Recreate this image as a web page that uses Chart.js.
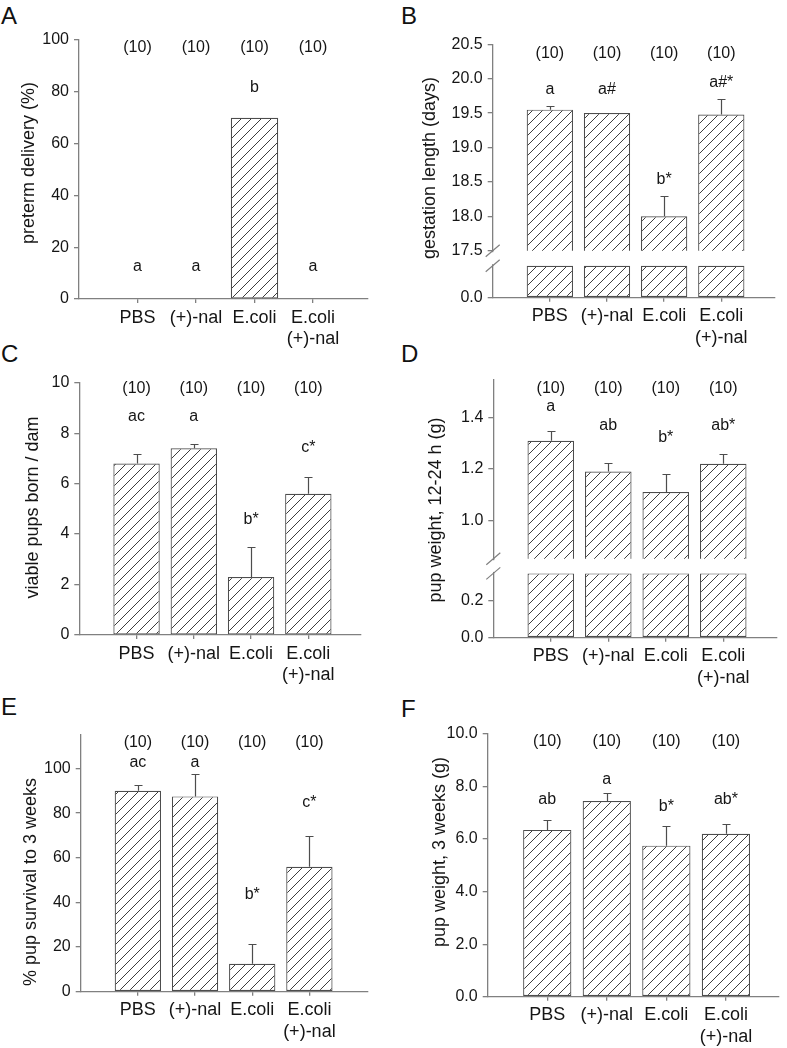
<!DOCTYPE html>
<html><head><meta charset="utf-8">
<script src="https://cdn.jsdelivr.net/npm/chart.js@4.4.1/dist/chart.umd.min.js"></script>
<style>
html,body{margin:0;padding:0;background:#fff}
body{width:787px;height:1048px;position:relative;overflow:hidden;font-family:"Liberation Sans",Arial,sans-serif}
canvas{position:absolute}
.lbl{position:absolute;font-size:24px;line-height:24px;color:#111}
</style></head><body>
<div class="lbl" style="left:1px;top:4px">A</div>
<div class="lbl" style="left:401px;top:4px">B</div>
<div class="lbl" style="left:1px;top:342px">C</div>
<div class="lbl" style="left:401px;top:342px">D</div>
<div class="lbl" style="left:1px;top:695px">E</div>
<div class="lbl" style="left:401px;top:697px">F</div>
<canvas id="cA"></canvas><canvas id="cB"></canvas>
<canvas id="cC"></canvas><canvas id="cD"></canvas>
<canvas id="cE"></canvas><canvas id="cF"></canvas>
<script>
// ---------------- data ----------------
const groups = ['PBS', '(+)-nal', 'E.coli', 'E.coli\n(+)-nal'];
const nPerGroup = [10, 10, 10, 10];

const pretermPct = [0, 0, 70, 0];
const pretermLetters = ['a', 'a', 'b', 'a'];
const pretermTicks = [0, 20, 40, 60, 80, 100];

const gestationDays = [19.55, 19.5, 18.0, 19.48];
const gestationErr = [0.05, 0, 0.3, 0.22];
const gestationLetters = ['a', 'a#', 'b*', 'a#*'];
const gestationTicks = [17.5, 18.0, 18.5, 19.0, 19.5, 20.0, 20.5];
const gestationLowTicks = [0];

const viablePups = [6.8, 7.4, 2.3, 5.6];
const viablePupsErr = [0.36, 0.17, 1.18, 0.67];
const viablePupsLetters = ['ac', 'a', 'b*', 'c*'];
const viablePupsTicks = [0, 2, 4, 6, 8, 10];

const pupWeight24h = [1.31, 1.19, 1.11, 1.22];
const pupWeight24hErr = [0.04, 0.035, 0.07, 0.04];
const pupWeight24hLetters = ['a', 'ab', 'b*', 'ab*'];
const pupWeight24hTicks = [1.0, 1.2, 1.4];
const pupWeight24hLowTicks = [0, 0.2];

const survival3wk = [90, 87.5, 12.5, 56];
const survival3wkErr = [2.8, 10, 9, 13.8];
const survival3wkLetters = ['ac', 'a', 'b*', 'c*'];
const survival3wkTicks = [0, 20, 40, 60, 80, 100];

const pupWeight3wk = [6.35, 7.45, 5.75, 6.2];
const pupWeight3wkErr = [0.37, 0.32, 0.75, 0.37];
const pupWeight3wkLetters = ['ab', 'a', 'b*', 'ab*'];
const pupWeight3wkTicks = [0, 2, 4, 6, 8, 10];

// ---------------- layout / style ----------------
const TXT = '#151515', AXIS = '#808080', EDGE = '#4d4d4d', HATCH = '#3c3c3c';
const FONT = '"Liberation Sans", Arial, sans-serif';
Chart.defaults.font.family = FONT;
Chart.defaults.color = TXT;

const panels = [
  {key:'A', box:[0,0,393,350], axisX:79, top:40, bottom:299, right:368, xMax:4.94,
   values:pretermPct, err:null, letters:pretermLetters,
   y:{min:0, max:100, ticks:pretermTicks, dec:0},
   nY:97, letterY:[12.4,12.4,81.5,12.4], title:'preterm delivery (%)', titleXY:[29,163]},
  {key:'B', box:[393,0,394,350], axisX:492.7, top:44.3, bottom:297.7, right:775, xMax:4.94,
   values:gestationDays, err:gestationErr, letters:gestationLetters,
   y:{min:17.5, max:20.5, ticks:gestationTicks, dec:1},
   low:{max:1, brk:0.68, ticks:gestationLowTicks, dec:1, split:250.7},
   nY:20.37, letterY:[19.84,19.84,18.54,19.94], title:'gestation length (days)', titleXY:[430,168]},
  {key:'C', box:[0,340,393,350], axisX:79.3, top:382.7, bottom:635, right:361, xMax:4.92,
   values:viablePups, err:viablePupsErr, letters:viablePupsLetters,
   y:{min:0, max:10, ticks:viablePupsTicks, dec:0},
   nY:9.78, letterY:[8.65,8.65,4.56,7.44], title:'viable pups born / dam', titleXY:[33,507.5]},
  {key:'D', box:[393,340,394,350], axisX:493.3, top:379.3, bottom:637.7, right:776.7, xMax:4.93,
   values:pupWeight24h, err:pupWeight24hErr, letters:pupWeight24hLetters,
   y:{min:0.85, max:1.55, ticks:pupWeight24hTicks, dec:1},
   low:{max:0.43, brk:0.35, ticks:pupWeight24hLowTicks, dec:1, split:558.7},
   nY:1.515, letterY:[1.443,1.371,1.322,1.371], title:'pup weight, 12-24 h (g)', titleXY:[436,510]},
  {key:'E', box:[0,680,393,368], axisX:80.7, top:735, bottom:991.7, right:367.7, xMax:5.02,
   values:survival3wk, err:survival3wkErr, letters:survival3wkLetters,
   y:{min:0, max:115, ticks:survival3wkTicks, dec:0},
   nY:111.5, letterY:[102.5,102.5,43.6,84.6], title:'% pup survival to 3 weeks', titleXY:[31,882]},
  {key:'F', box:[393,680,394,368], axisX:487.7, top:734, bottom:996.7, right:778.3, xMax:4.88,
   values:pupWeight3wk, err:pupWeight3wkErr, letters:pupWeight3wkLetters,
   y:{min:0, max:10, ticks:pupWeight3wkTicks, dec:1},
   nY:9.71, letterY:[7.49,8.28,7.23,7.51], title:'pup weight, 3 weeks (g)', titleXY:[440,852]}
];

function makeHatch(ctx){
  const s = 10, c = document.createElement('canvas');
  c.width = s; c.height = s;
  const g = c.getContext('2d');
  g.fillStyle = '#fff'; g.fillRect(0,0,s,s);
  g.strokeStyle = HATCH; g.lineWidth = 1;
  g.beginPath();
  g.moveTo(-1, s+1); g.lineTo(s+1, -1);
  g.moveTo(-1, 1); g.lineTo(1, -1);
  g.moveTo(s-1, s+1); g.lineTo(s+1, s-1);
  g.stroke();
  return ctx.createPattern(c, 'repeat');
}

const decor = {
  id: 'decor',
  afterDatasetsDraw(chart, args, o) {
    const ctx = chart.ctx, xs = chart.scales.x, ys = chart.scales[o.yId];
    ctx.save();
    // error bars
    ctx.strokeStyle = EDGE; ctx.lineWidth = 1.2;
    o.values.forEach((v, i) => {
      const e = o.err ? o.err[i] : 0;
      if (!e) return;
      const px = Math.round(xs.getPixelForValue(i + 1)) + 0.5;
      const y0 = ys.getPixelForValue(v), y1 = Math.round(ys.getPixelForValue(v + e)) + 0.5;
      ctx.beginPath();
      ctx.moveTo(px, y0); ctx.lineTo(px, y1);
      ctx.moveTo(px - 4, y1); ctx.lineTo(px + 4, y1);
      ctx.stroke();
    });
    // n and letters
    ctx.fillStyle = TXT; ctx.textAlign = 'center'; ctx.textBaseline = 'middle';
    ctx.font = '16px ' + FONT;
    o.n.forEach((n, i) => ctx.fillText('(' + n + ')', xs.getPixelForValue(i + 1), ys.getPixelForValue(o.nY)));
    o.letters.forEach((t, i) => ctx.fillText(t, xs.getPixelForValue(i + 1), ys.getPixelForValue(o.letterY[i])));
    // axis break
    if (o.low) {
      const yl = chart.scales.yL, yu = chart.scales.yU;
      const ax = yu.right;
      const ySplit = yu.bottom, yTop = yl.getPixelForValue(o.low.brk);
      ctx.fillStyle = '#fff';
      ctx.fillRect(ax - 3, ySplit + 1.5, 6, yTop - ySplit - 3);
      ctx.strokeStyle = AXIS; ctx.lineWidth = 1.2;
      ctx.beginPath();
      [ySplit, yTop].forEach(yy => { ctx.moveTo(ax - 7, yy + 6); ctx.lineTo(ax + 7, yy - 6); });
      ctx.stroke();
    }
    // y title
    ctx.fillStyle = TXT; ctx.font = '18px ' + FONT;
    ctx.translate(o.titleX, o.titleY); ctx.rotate(-Math.PI / 2);
    ctx.fillText(o.title, 0, 0);
    ctx.restore();
  }
};

function yAxis(p, cfg, extra) {
  return Object.assign({
    type: 'linear', position: 'left', min: cfg.min, max: cfg.max, offset: false,
    border: {display: true, color: AXIS, width: 1.3},
    grid: {display: true, drawOnChartArea: false, drawTicks: true, tickLength: 5, color: AXIS, lineWidth: 1.3},
    ticks: {autoSkip: false, font: {size: 16}, color: TXT, padding: 5, callback: v => Number(v).toFixed(cfg.dec)},
    afterBuildTicks: s => { s.ticks = cfg.ticks.map(v => ({value: v})); },
    afterFit: s => { s.width = p.axisX - p.box[0]; }
  }, extra || {});
}

function build(p) {
  const cv = document.getElementById('c' + p.key);
  const [cx, cy, cw, ch] = p.box;
  cv.width = cw; cv.height = ch;
  cv.style.left = cx + 'px'; cv.style.top = cy + 'px';
  cv.style.width = cw + 'px'; cv.style.height = ch + 'px';
  const ctx = cv.getContext('2d');
  const pat = makeHatch(ctx);
  const pts = arr => arr.map((v, i) => ({x: i + 1, y: v}));
  const barStyle = {backgroundColor: pat, borderColor: EDGE, borderWidth: 1.2, borderSkipped: false,
                    barPercentage: 0.81, categoryPercentage: 1, grouped: false, xAxisID: 'x'};
  const datasets = [];
  const scales = {
    x: {
      type: 'linear', min: 0, max: p.xMax, offset: false,
      border: {display: true, color: AXIS, width: 1.3},
      grid: {display: true, offset: false, drawOnChartArea: false, drawTicks: true, tickLength: 4, color: AXIS, lineWidth: 1.3},
      ticks: {autoSkip: false, maxRotation: 0, minRotation: 0, font: {size: 18, lineHeight: 1.2}, color: TXT, padding: 4,
              callback: v => { const g = groups[Math.round(v) - 1]; return g ? g.split('\n') : ''; }},
      afterBuildTicks: s => { s.ticks = groups.map((g, i) => ({value: i + 1})); },
      afterFit: s => { s.height = cy + ch - p.bottom; }
    }
  };
  let yId = 'y';
  if (p.low) {
    yId = 'yU';
    const wU = p.low.split - p.top, wL = p.bottom - p.low.split;
    scales.yU = yAxis(p, p.y, {stack: 'brk', stackWeight: wU, weight: 2});
    scales.yL = yAxis(p, {min: 0, max: p.low.max, ticks: p.low.ticks, dec: p.low.dec}, {stack: 'brk', stackWeight: wL, weight: 1});
    datasets.push(Object.assign({data: pts(p.values), yAxisID: 'yU'}, barStyle));
    datasets.push(Object.assign({data: pts(p.values.map(v => Math.min(v, p.low.brk))), yAxisID: 'yL'}, barStyle));
  } else {
    scales.y = yAxis(p, p.y);
    datasets.push(Object.assign({data: pts(p.values), yAxisID: 'y'}, barStyle));
  }
  new Chart(ctx, {
    type: 'bar',
    data: {datasets},
    options: {
      responsive: false, animation: false, devicePixelRatio: 1,
      layout: {padding: {left: 0, top: p.top - cy, right: cx + cw - p.right, bottom: 0}},
      plugins: {
        legend: {display: false}, tooltip: {enabled: false},
        decor: {yId, values: p.values, err: p.err, n: nPerGroup, nY: p.nY, letters: p.letters,
                letterY: p.letterY, low: p.low || null, title: p.title,
                titleX: p.titleXY[0] - cx, titleY: p.titleXY[1] - cy}
      },
      scales
    },
    plugins: [decor]
  });
}
panels.forEach(build);
</script>
</body></html>
